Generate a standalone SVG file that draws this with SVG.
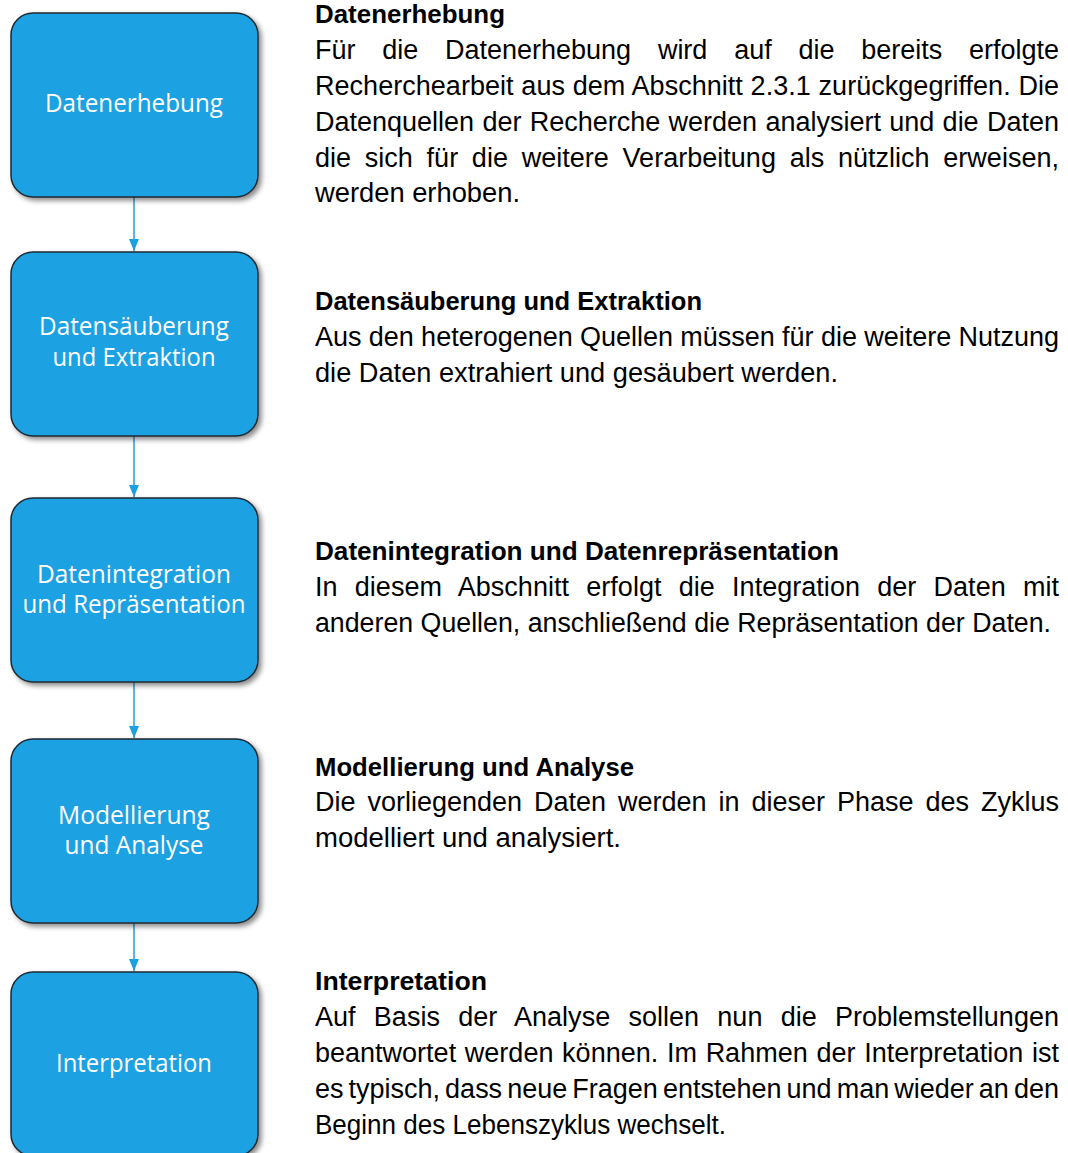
<svg xmlns="http://www.w3.org/2000/svg" width="1068" height="1153" viewBox="0 0 1068 1153">
  <style>
    .box { fill: #1BA1E2; stroke: #1f2a30; stroke-width: 1.5; filter: url(#shadow); }
    .lbl { font-family: "Open Sans", "Noto Sans", "Liberation Sans", sans-serif; font-size: 25px; fill: #FFFFFF; text-anchor: middle; }
    .conn { stroke: #1BA1E2; stroke-width: 1.5; fill: none; marker-end: url(#arrow); }
    .hd { font-family: "Liberation Sans", Arial, sans-serif; font-size: 26px; font-weight: bold; fill: #000000; }
    .tx { font-family: "Liberation Sans", Arial, sans-serif; font-size: 27px; fill: #000000; }
  </style>
  <defs>
    <filter id="shadow" x="-10%" y="-10%" width="130%" height="130%">
      <feDropShadow dx="3" dy="3" stdDeviation="2.5" flood-color="#000000" flood-opacity="0.45"/>
    </filter>
    <marker id="arrow" viewBox="0 0 12 10" refX="12" refY="5" markerWidth="12" markerHeight="10" markerUnits="userSpaceOnUse" orient="auto">
      <path d="M0,0 L12,5 L0,10 Z" fill="#1BA1E2"/>
    </marker>
  </defs>
  <rect width="1068" height="1153" fill="#FFFFFF"/>

  <g id="connectors">
    <line class="conn" x1="134" y1="197" x2="134" y2="251"/>
    <line class="conn" x1="134" y1="436" x2="134" y2="497"/>
    <line class="conn" x1="134" y1="682" x2="134" y2="738"/>
    <line class="conn" x1="134" y1="923" x2="134" y2="971"/>
  </g>

  <g id="node-datenerhebung">
    <rect class="box" x="11" y="13" width="247" height="184" rx="22" ry="22"/>
    <text class="lbl" x="134" y="112" textLength="178" lengthAdjust="spacingAndGlyphs">Datenerhebung</text>
  </g>
  <g id="node-datensaeuberung">
    <rect class="box" x="11" y="252" width="247" height="184" rx="22" ry="22"/>
    <text class="lbl" x="134" y="335" textLength="190" lengthAdjust="spacingAndGlyphs">Datensäuberung</text>
    <text class="lbl" x="134" y="366" textLength="163" lengthAdjust="spacingAndGlyphs">und Extraktion</text>
  </g>
  <g id="node-datenintegration">
    <rect class="box" x="11" y="498" width="247" height="184" rx="22" ry="22"/>
    <text class="lbl" x="134" y="583" textLength="194" lengthAdjust="spacingAndGlyphs">Datenintegration</text>
    <text class="lbl" x="134" y="613" textLength="223" lengthAdjust="spacingAndGlyphs">und Repräsentation</text>
  </g>
  <g id="node-modellierung">
    <rect class="box" x="11" y="739" width="247" height="184" rx="22" ry="22"/>
    <text class="lbl" x="134" y="824" textLength="152" lengthAdjust="spacingAndGlyphs">Modellierung</text>
    <text class="lbl" x="134" y="854" textLength="139" lengthAdjust="spacingAndGlyphs">und Analyse</text>
  </g>
  <g id="node-interpretation">
    <rect class="box" x="11" y="972" width="247" height="184" rx="22" ry="22"/>
    <text class="lbl" x="134" y="1072" textLength="156" lengthAdjust="spacingAndGlyphs">Interpretation</text>
  </g>

  <g id="desc-datenerhebung">
    <text class="hd" x="315" y="23" textLength="190" lengthAdjust="spacingAndGlyphs">Datenerhebung</text>
    <text class="tx" x="315" y="59" word-spacing="19.3" textLength="744" lengthAdjust="spacing">Für die Datenerhebung wird auf die bereits erfolgte</text>
    <text class="tx" x="315" y="95" word-spacing="0.2" textLength="744" lengthAdjust="spacing">Recherchearbeit aus dem Abschnitt 2.3.1 zurückgegriffen. Die</text>
    <text class="tx" x="315" y="131" word-spacing="0.8" textLength="744" lengthAdjust="spacing">Datenquellen der Recherche werden analysiert und die Daten</text>
    <text class="tx" x="315" y="167" word-spacing="6.2" textLength="744" lengthAdjust="spacing">die sich für die weitere Verarbeitung als nützlich erweisen,</text>
    <text class="tx" x="315" y="202" textLength="205" lengthAdjust="spacingAndGlyphs">werden erhoben.</text>
  </g>
  <g id="desc-datensaeuberung">
    <text class="hd" x="315" y="310" textLength="387" lengthAdjust="spacingAndGlyphs">Datensäuberung und Extraktion</text>
    <text class="tx" x="315" y="346" word-spacing="-0.2" textLength="744" lengthAdjust="spacing">Aus den heterogenen Quellen müssen für die weitere Nutzung</text>
    <text class="tx" x="315" y="382" textLength="523" lengthAdjust="spacingAndGlyphs">die Daten extrahiert und gesäubert werden.</text>
  </g>
  <g id="desc-datenintegration">
    <text class="hd" x="315" y="560" textLength="524" lengthAdjust="spacingAndGlyphs">Datenintegration und Datenrepräsentation</text>
    <text class="tx" x="315" y="596" word-spacing="9.7" textLength="744" lengthAdjust="spacing">In diesem Abschnitt erfolgt die Integration der Daten mit</text>
    <text class="tx" x="315" y="632" textLength="736" lengthAdjust="spacingAndGlyphs">anderen Quellen, anschließend die Repräsentation der Daten.</text>
  </g>
  <g id="desc-modellierung">
    <text class="hd" x="315" y="776" textLength="319" lengthAdjust="spacingAndGlyphs">Modellierung und Analyse</text>
    <text class="tx" x="315" y="811" word-spacing="4.5" textLength="744" lengthAdjust="spacing">Die vorliegenden Daten werden in dieser Phase des Zyklus</text>
    <text class="tx" x="315" y="847" textLength="306" lengthAdjust="spacingAndGlyphs">modelliert und analysiert.</text>
  </g>
  <g id="desc-interpretation">
    <text class="hd" x="315" y="990" textLength="172" lengthAdjust="spacingAndGlyphs">Interpretation</text>
    <text class="tx" x="315" y="1026" word-spacing="10.7" textLength="744" lengthAdjust="spacing">Auf Basis der Analyse sollen nun die Problemstellungen</text>
    <text class="tx" x="315" y="1062" word-spacing="1.2" textLength="744" lengthAdjust="spacing">beantwortet werden können. Im Rahmen der Interpretation ist</text>
    <text class="tx" x="315" y="1098" word-spacing="-2.4" textLength="744" lengthAdjust="spacing">es typisch, dass neue Fragen entstehen und man wieder an den</text>
    <text class="tx" x="315" y="1134" textLength="411" lengthAdjust="spacingAndGlyphs">Beginn des Lebenszyklus wechselt.</text>
  </g>
</svg>
